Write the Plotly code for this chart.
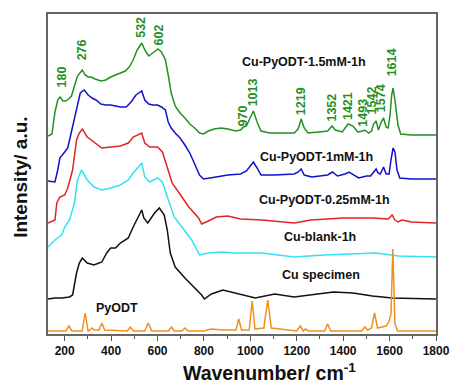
import plotly.graph_objects as go

# ---------------- data (wavenumber in cm-1, offset intensity in a.u.) ----------------
green_x = [128, 145, 158, 170, 180, 192, 204, 217, 229, 242, 255, 276, 288, 301, 314, 331, 356, 377, 398, 419,
           440, 461, 478, 495, 512, 532, 545, 562, 579, 602, 617, 634, 646, 659, 676, 697, 718, 739, 760, 781,
           798, 819, 844, 874, 903, 937, 958, 970, 983, 996, 1013, 1029, 1046, 1084, 1147, 1189, 1206, 1219,
           1232, 1248, 1295, 1333, 1352, 1366, 1396, 1413, 1421, 1442, 1463, 1484, 1493, 1510, 1522, 1531,
           1542, 1552, 1564, 1574, 1585, 1594, 1602, 1609, 1615, 1623, 1636, 1648, 1695, 1800]
green_y = [198, 200, 222, 234, 237, 233, 233, 235, 238, 249, 258, 264, 259, 257, 257, 255, 253, 254, 257, 259,
           261, 263, 267, 274, 284, 291, 284, 278, 281, 285, 282, 274, 259, 241, 228, 221, 216, 210, 206, 201,
           200, 203, 205, 206, 205, 203, 204, 207, 208, 214, 223, 212, 203, 201, 201, 201, 205, 215,
           206, 201, 202, 203, 208, 204, 202, 207, 210, 208, 202, 203, 204, 201, 203, 210,
           213, 204, 212, 216, 207, 206, 219, 239, 246, 234, 209, 200, 199, 199]

blue_x = [128, 158, 170, 179, 200, 213, 221, 234, 251, 267, 284, 301, 318, 335, 356, 377, 398, 419, 440, 465,
          486, 507, 532, 545, 562, 579, 600, 617, 634, 646, 659, 676, 697, 718, 739, 760, 781, 798, 819, 853,
          903, 958, 983, 1000, 1013, 1029, 1046, 1105, 1189, 1206, 1219, 1232, 1265, 1333, 1354, 1375, 1408,
          1425, 1446, 1467, 1501, 1518, 1542, 1550, 1560, 1574, 1585, 1598, 1606, 1615, 1623, 1632, 1644,
          1695, 1800]
blue_y = [153, 152, 164, 176, 182, 186, 194, 207, 226, 241, 244, 239, 236, 234, 230, 229, 229, 228, 227, 227,
          232, 239, 243, 234, 230, 229, 229, 227, 224, 212, 206, 201, 196, 189, 181, 170, 159, 155, 156, 157,
          159, 160, 163, 168, 172, 166, 159, 159, 160, 162, 165, 159, 157, 159, 162, 158, 160,
          162, 159, 156, 158, 158, 165, 161, 160, 167, 160, 160, 174, 186, 182, 164, 156,
          155, 155]

red_x = [128, 158, 166, 179, 200, 213, 234, 251, 263, 276, 297, 326, 360, 398, 440, 474, 495, 532, 545, 566,
         600, 621, 642, 663, 693, 735, 777, 790, 819, 853, 903, 958, 1050, 1189, 1261, 1400, 1526, 1594, 1611,
         1623, 1636, 1653, 1695, 1800]
red_y = [111, 114, 131, 137, 139, 146, 164, 194, 201, 205, 197, 192, 186, 187, 188, 191, 197, 201, 191, 187,
         187, 182, 167, 151, 141, 127, 116, 110, 113, 117, 118, 115, 114, 111, 114, 116, 116, 115, 119,
         114, 112, 114, 112, 111]

cyan_x = [128, 158, 187, 200, 221, 242, 255, 272, 297, 326, 360, 398, 440, 474, 495, 532, 545, 566, 600, 621,
          642, 672, 705, 747, 781, 819, 874, 937, 1050, 1189, 1316, 1429, 1539, 1640, 1800]
cyan_y = [87, 94, 99, 107, 114, 131, 154, 164, 154, 147, 144, 146, 149, 154, 161, 171, 157, 152, 156, 152,
          137, 117, 107, 94, 79, 81, 82, 81, 81, 77, 79, 80, 81, 78, 77]

black_x = [128, 158, 187, 221, 234, 251, 263, 276, 297, 326, 360, 381, 398, 419, 440, 474, 495, 532, 541, 558,
           587, 608, 629, 642, 655, 676, 718, 760, 790, 802, 832, 882, 937, 1021, 1105, 1189, 1358, 1442, 1526,
           1611, 1800]
black_y = [35, 36, 36, 37, 39, 61, 71, 76, 71, 69, 72, 81, 86, 86, 91, 96, 107, 124, 116, 111,
           121, 126, 119, 104, 81, 67, 56, 46, 39, 35, 40, 44, 41, 36, 40, 37, 42, 41, 38,
           36, 35]

orange_x = [128, 205, 218, 231, 275, 288, 301, 310, 318, 328, 348, 360, 372, 470, 483, 496, 545, 560, 575, 648,
            660, 672, 705, 718, 731, 800, 830, 880, 938, 950, 962, 995, 1008, 1020, 1058, 1075, 1090, 1200,
            1215, 1228, 1237, 1250, 1320, 1333, 1346, 1480, 1493, 1506, 1522, 1535, 1548, 1585, 1597, 1606,
            1614, 1623, 1635, 1800]
orange_y = [3, 3, 8, 3, 3, 21, 3, 4, 6, 4, 4, 11, 4, 3, 7, 3, 3, 11, 3, 3,
            7, 3, 3, 6, 3, 3, 5, 4, 4, 15, 4, 4, 33, 5, 6, 34, 6, 3,
            8, 3, 5, 3, 3, 10, 3, 3, 7, 4, 6, 21, 6, 8, 12, 20,
            85, 10, 3, 3]

peak_labels = ["180", "276", "532", "602", "970", "1013", "1219", "1352", "1421", "1493", "1542", "1574", "1614"]
peak_label_x = [190, 276, 528, 608, 970, 1013, 1219, 1350, 1421, 1484, 1526, 1564, 1612]
peak_label_y = [257, 284, 307, 299, 218, 242, 233, 226, 228, 221, 234, 236, 272]

series_names = ["Cu-PyODT-1.5mM-1h", "Cu-PyODT-1mM-1h", "Cu-PyODT-0.25mM-1h", "Cu-blank-1h", "Cu specimen", "PyODT"]
series_label_x = [1232, 1286, 1320, 1299, 1303, 427]
series_label_y = [272, 177, 134, 97, 59, 26]

x_ticks = [200, 400, 600, 800, 1000, 1200, 1400, 1600, 1800]

# ---------------- figure ----------------
FONT = "Liberation Sans, Arial, sans-serif"
GREEN = "#23901f"
fig = go.Figure()
traces = [
    (green_x, green_y, GREEN),
    (blue_x, blue_y, "#1212c8"),
    (red_x, red_y, "#e02424"),
    (cyan_x, cyan_y, "#33e2f0"),
    (black_x, black_y, "#111111"),
    (orange_x, orange_y, "#f0901c"),
]
for (xs, ys, col), name in zip(traces, series_names):
    fig.add_trace(go.Scatter(x=xs, y=ys, mode="lines", name=name,
                             line=dict(color=col, width=1.5), showlegend=False))

for t, xv, yv in zip(peak_labels, peak_label_x, peak_label_y):
    fig.add_annotation(x=xv, y=yv, xref="x", yref="y", text="<b>%s</b>" % t, textangle=-90, showarrow=False,
                       xanchor="center", yanchor="middle",
                       font=dict(family=FONT, size=12.5, color=GREEN))

for t, xv, yv in zip(series_names, series_label_x, series_label_y):
    fig.add_annotation(x=xv, y=yv, xref="x", yref="y", text="<b>%s</b>" % t, showarrow=False,
                       xanchor="center", yanchor="middle",
                       font=dict(family=FONT, size=12.5, color="#111111"))

fig.add_annotation(x=0.572, y=-0.118, xref="paper", yref="paper", text="<b>Wavenumber/ cm<sup>-1</sup></b>",
                   showarrow=False, xanchor="center", yanchor="middle",
                   font=dict(family=FONT, size=19.5, color="#111111"))
fig.add_annotation(x=-0.0705, y=0.49, xref="paper", yref="paper", text="<b>Intensity/ a.u.</b>",
                   textangle=-90, showarrow=False, xanchor="center", yanchor="middle",
                   font=dict(family=FONT, size=19, color="#111111"))

fig.update_layout(
    width=462, height=388,
    margin=dict(l=48, r=17, t=14, b=54),
    paper_bgcolor="white", plot_bgcolor="white",
    xaxis=dict(range=[128, 1800], tickvals=x_ticks, ticks="outside", ticklen=5, tickwidth=1,
               tickcolor="#555", showline=True, linecolor="#666", linewidth=1.5, mirror=True,
               showgrid=False, zeroline=False,
               minor=dict(dtick=100, tick0=0, ticks="outside", ticklen=3, tickcolor="#555", showgrid=False),
               tickfont=dict(family=FONT, size=12, color="#111111", weight="bold")),
    yaxis=dict(range=[0, 320], showticklabels=False, ticks="", showline=True, linecolor="#666",
               linewidth=1.5, mirror=True, showgrid=False, zeroline=False),
)

fig.write_html("out.html")
